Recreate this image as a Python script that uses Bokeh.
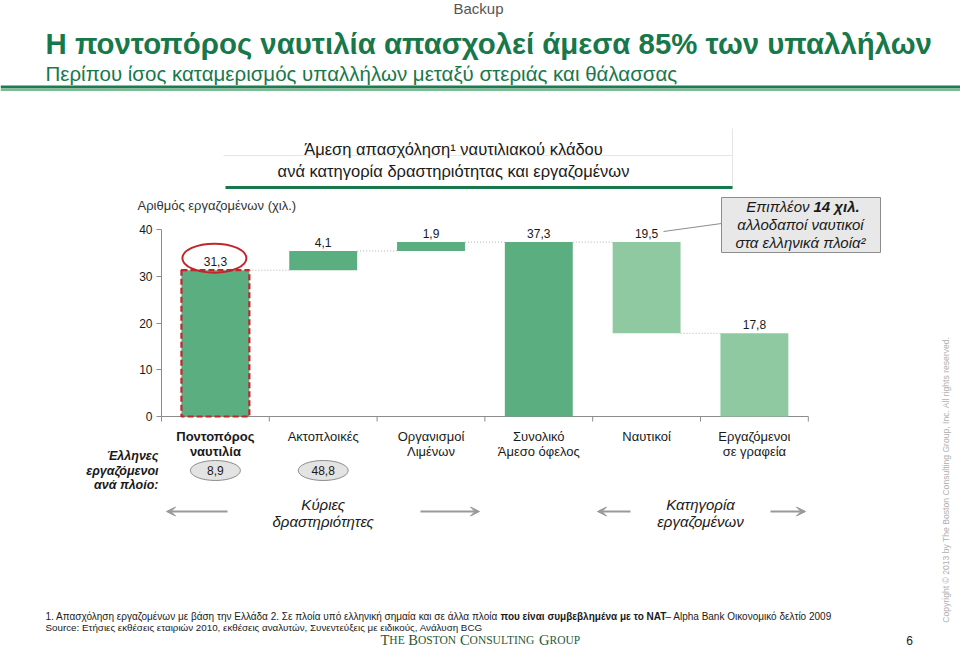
import math
from bokeh.plotting import figure
from bokeh.models import Range1d, LinearAxis, FixedTicker, Label, Arrow, VeeHead, ColumnDataSource
from bokeh.core.properties import value
from bokeh.embed import file_html
from bokeh.resources import INLINE

# ---------------- data ----------------
categories = ["Ποντοπόρος\nναυτιλία", "Ακτοπλοικές", "Οργανισμοί\nΛιμένων",
              "Συνολικό\nΆμεσο όφελος", "Ναυτικοί", "Εργαζόμενοι\nσε γραφεία"]
values = [31.3, 4.1, 1.9, 37.3, 19.5, 17.8]
kinds = ["inc", "inc", "inc", "total", "dec", "total"]
per_ship_cats = [0, 1]
per_ship_values = [8.9, 48.8]
y_ticks = [0, 10, 20, 30, 40]

# ---------------- geometry helpers (canvas pixel -> data) ----------------
X0, XU = 161.0, 107.8     # canvas x of data x=0, px per category
Y0, YU = 416.0, 4.675     # canvas y of data y=0, px per unit


def dx(px):
    return (px - X0) / XU


def dy(py):
    return (Y0 - py) / YU


def pw(px):
    return px / XU


def ph(px):
    return px / YU


W, H = 960, 649

p = figure(width=W, height=H, output_backend="svg", toolbar_location=None,
           x_axis_type=None, y_axis_type=None, title=None,
           x_range=Range1d(dx(0), dx(W)), y_range=Range1d(dy(H), dy(0)),
           min_border_left=0, min_border_right=0, min_border_top=0, min_border_bottom=0)
p.outline_line_color = None
p.xgrid.visible = False
p.ygrid.visible = False
p.background_fill_color = "white"
p.border_fill_color = "white"

SANS = "Liberation Sans"
GREEN = "#17784b"
MID = "#5aae80"
LIGHT = "#8fc9a1"
RED = "#c0272d"
GRAY = "#8c8c8c"
TXT = "#1a1a1a"

# ---------------- y axis (fixed at x = 0) ----------------
yax = LinearAxis(ticker=FixedTicker(ticks=y_ticks), bounds=(0, 40), fixed_location=0)
yax.axis_line_color = GRAY
yax.major_tick_line_color = GRAY
yax.major_tick_in = 0
yax.major_tick_out = 5
yax.minor_tick_line_color = None
yax.major_label_text_font = SANS
yax.major_label_text_font_size = "12px"
yax.major_label_text_color = TXT
yax.major_label_standoff = 4
p.add_layout(yax, "left")

# ---------------- x axis line + boundary ticks ----------------
n = len(values)
p.segment(x0=[0], y0=[0], x1=[n], y1=[0], line_color=GRAY, line_width=1)
p.segment(x0=list(range(n + 1)), y0=[0] * (n + 1), x1=list(range(n + 1)),
          y1=[-ph(5)] * (n + 1), line_color=GRAY, line_width=1)

# ---------------- waterfall ----------------
bottoms, tops = [], []
running = 0.0
for v, k in zip(values, kinds):
    if k == "inc":
        bottoms.append(running); tops.append(running + v); running += v
    elif k == "dec":
        tops.append(running); bottoms.append(running - v); running -= v
    else:
        bottoms.append(0.0); tops.append(v); running = v

centers = [i + 0.5 for i in range(n)]
bw = 0.63
colors = [MID, MID, MID, MID, LIGHT, LIGHT]
src = ColumnDataSource(dict(left=[c - bw / 2 for c in centers],
                            right=[c + bw / 2 for c in centers],
                            bottom=bottoms, top=tops, color=colors))
p.quad(left="left", right="right", bottom="bottom", top="top", source=src,
       fill_color="color", line_color=None)

# highlighted first bar: dashed red outline
p.quad(left=[centers[0] - bw / 2], right=[centers[0] + bw / 2], bottom=[bottoms[0]],
       top=[tops[0]], fill_color=None, line_color=RED, line_width=2.2, line_dash="6 3")

# connectors
levels = [bottoms[i] if kinds[i] == "dec" else tops[i] for i in range(n - 1)]
p.segment(x0=[centers[i] + bw / 2 for i in range(n - 1)], y0=levels,
          x1=[centers[i + 1] - bw / 2 for i in range(n - 1)], y1=levels,
          line_color="#b0b0b0", line_width=1, line_dash="1 2")

# value labels
p.text(x=centers, y=tops, text=[f"{v:.1f}".replace(".", ",") for v in values],
       text_font=value(SANS), text_font_size="12px", text_color=TXT,
       text_align="center", text_baseline="bottom", y_offset=-4)

# red hand-drawn circle around 31,3
p.ellipse(x=[centers[0] - pw(1)], y=[tops[0] + ph(12)], width=[pw(64)], height=[ph(29)],
          fill_color=None, line_color=RED, line_width=2)

# callout line and box
p.segment(x0=[dx(663)], y0=[dy(231)], x1=[dx(721)], y1=[dy(223)], line_color=GRAY, line_width=1)
p.quad(left=[dx(721)], right=[dx(880)], top=[dy(197)], bottom=[dy(252)],
       fill_color="#e8e8e8", line_color=GRAY, line_width=1)
p.text(x=[dx(809)], y=[dy(206)], text=["Επιπλέον"], text_font=value(SANS),
       text_font_size="15px", text_font_style="italic", text_color=TXT,
       text_align="right", text_baseline="middle")
p.text(x=[dx(813)], y=[dy(206)], text=["14 χιλ."], text_font=value(SANS),
       text_font_size="15px", text_font_style="bold italic", text_color=TXT,
       text_align="left", text_baseline="middle")
p.text(x=[dx(800), dx(800)], y=[dy(224), dy(242)],
       text=["αλλοδαποί ναυτικοί", "στα ελληνικά πλοία²"], text_font=value(SANS),
       text_font_size="15px", text_font_style="italic", text_color=TXT,
       text_align="center", text_baseline="middle")

# category labels
for i, c in enumerate(categories):
    parts = c.split("\n")
    style = "bold" if i == 0 else "normal"
    for j, part in enumerate(parts):
        p.text(x=[centers[i]], y=[dy(436 + 15 * j)], text=[part], text_font=value(SANS),
               text_font_size="13px", text_color=TXT, text_font_style=style,
               text_align="center", text_baseline="middle")

# per-ship ellipses
ps_x = [centers[i] for i in per_ship_cats]
p.ellipse(x=ps_x, y=[dy(470)] * 2, width=[pw(50)] * 2, height=[ph(20)] * 2,
          fill_color="#e3e3e3", line_color=GRAY, line_width=1)
p.text(x=ps_x, y=[dy(470)] * 2, text=[f"{v:.1f}".replace(".", ",") for v in per_ship_values],
       text_font=value(SANS), text_font_size="12px", text_color=TXT,
       text_align="center", text_baseline="middle")

# group captions
for cx, l1, l2 in [(centers[1], "Κύριες", "δραστηριότητες"),
                   (centers[5] - 0.5, "Κατηγορία", "εργαζομένων")]:
    p.text(x=[cx, cx], y=[dy(504), dy(521)], text=[l1, l2], text_font=value(SANS),
           text_font_size="15px", text_font_style="italic", text_color=TXT,
           text_align="center", text_baseline="middle")

for xs, xe in [(227, 166), (420, 479), (630, 597), (770, 805)]:
    p.add_layout(Arrow(x_start=dx(xs), y_start=dy(511), x_end=dx(xe), y_end=dy(511),
                       line_color="#999999", line_width=2,
                       end=VeeHead(size=9, fill_color="#999999", line_color="#999999")))

# chart title block
p.segment(x0=[dx(223)], y0=[dy(155)], x1=[dx(732)], y1=[dy(155)], line_color="#e6e6e6", line_width=1)
p.segment(x0=[dx(732)], y0=[dy(128)], x1=[dx(732)], y1=[dy(187)], line_color="#e6e6e6", line_width=1)
p.segment(x0=[dx(225)], y0=[dy(187)], x1=[dx(732)], y1=[dy(187)], line_color=GREEN, line_width=3)
p.text(x=[dx(453), dx(453)], y=[dy(148), dy(170)],
       text=["Άμεση απασχόληση¹ ναυτιλιακού κλάδου",
             "ανά κατηγορία δραστηριότητας και εργαζομένων"],
       text_font=value(SANS), text_font_size="16.5px", text_color=TXT,
       text_align="center", text_baseline="middle")

# header rules
p.segment(x0=[dx(0)], y0=[dy(86.5)], x1=[dx(W)], y1=[dy(86.5)], line_color="#1e7a4f", line_width=3)
p.segment(x0=[dx(0)], y0=[dy(89.5)], x1=[dx(W)], y1=[dy(89.5)], line_color="#79bd93", line_width=2)


# ---------------- slide texts ----------------
def lab(xp, yp, text, size, style="normal", color=TXT, align="left",
        baseline="middle", font=SANS, angle=0.0):
    p.add_layout(Label(x=dx(xp), y=dy(yp), text=text, text_font=font,
                       text_font_size=f"{size}px", text_font_style=style,
                       text_color=color, text_align=align, text_baseline=baseline,
                       angle=angle))


lab(478, 8, "Backup", 15, color="#555555", align="center")
lab(45, 43, "Η ποντοπόρος ναυτιλία απασχολεί άμεσα 85% των υπαλλήλων", 29.4,
    style="bold", color=GREEN)
lab(45, 73, "Περίπου ίσος καταμερισμός υπαλλήλων μεταξύ στεριάς και θάλασσας", 20.5,
    color=GREEN)

lab(137, 205, "Αριθμός εργαζομένων (χιλ.)", 13, color="#333333")
lab(158, 455, "Έλληνες", 12.5, style="bold italic", align="right")
lab(158, 470, "εργαζόμενοι", 12.5, style="bold italic", align="right")
lab(158, 484, "ανά πλοίο:", 12.5, style="bold italic", align="right")

lab(45, 616, "1. Απασχόληση εργαζομένων με βάση την Ελλάδα  2. Σε πλοία υπό ελληνική σημαία και σε άλλα πλοία",
    10)
lab(500, 616, "που είναι συμβεβλημένα με το NAT", 10, style="bold")
lab(665, 616, "– Alpha Bank Οικονομικό δελτίο 2009", 10)
lab(45, 627, "Source: Ετήσιες εκθέσεις εταιριών 2010, εκθέσεις αναλυτών, Συνεντεύξεις με ειδικούς, Ανάλυση BCG",
    9.8)
lab(909, 640, "6", 12, align="center")
lab(945, 479, "Copyright © 2013 by The Boston Consulting Group, Inc. All rights reserved.",
    8.6, color="#b0b0b0", align="center", angle=math.pi / 2)

# BCG wordmark in small caps
SERIF = "Liberation Serif"
BIG, SMALL = 14.5, 11.5
wf = {"T": .611, "H": .722, "E": .611, "B": .667, "O": .722, "S": .556, "N": .722,
      "C": .667, "U": .722, "L": .611, "I": .333, "G": .722, "R": .667, "P": .556}
xcur = 380.0
for w in ["THE", "BOSTON", "CONSULTING", "GROUP"]:
    lab(xcur, 639.5, w[0], BIG, color="#1f5a3c", font=SERIF, baseline="alphabetic")
    xcur += wf[w[0]] * BIG
    lab(xcur, 639.5, w[1:], SMALL, color="#1f5a3c", font=SERIF, baseline="alphabetic")
    xcur += sum(wf[c] for c in w[1:]) * SMALL + 0.25 * BIG

open("out.html", "w").write(file_html(p, INLINE))
